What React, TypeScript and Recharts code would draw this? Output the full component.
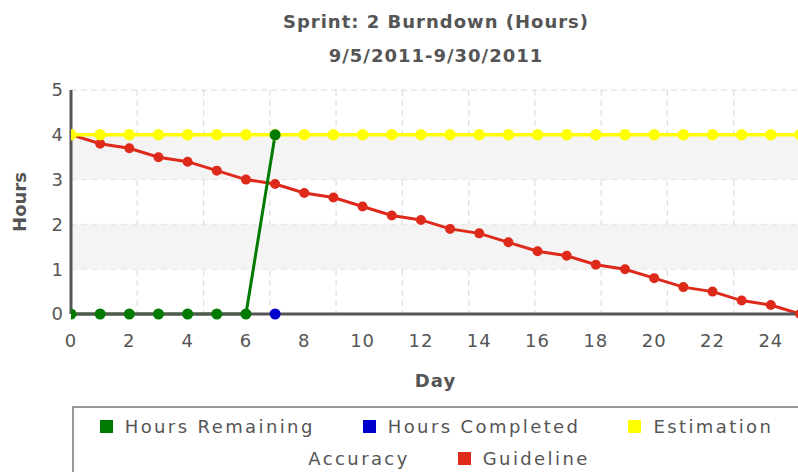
import React from "react";
import {
  LineChart,
  Line,
  XAxis,
  YAxis,
  CartesianGrid,
  ReferenceArea,
  Legend,
} from "recharts";

// sprint days 0..25
const days = [0, 1, 2, 3, 4, 5, 6, 7, 8, 9, 10, 11, 12, 13, 14, 15, 16, 17, 18, 19, 20, 21, 22, 23, 24, 25];
const hoursRemaining = [0, 0, 0, 0, 0, 0, 0, 4];
const hoursCompleted = [null, null, null, null, null, null, null, 0];
const estimation = [4, 4, 4, 4, 4, 4, 4, 4, 4, 4, 4, 4, 4, 4, 4, 4, 4, 4, 4, 4, 4, 4, 4, 4, 4, 4];
const guideline = [4, 3.8, 3.7, 3.5, 3.4, 3.2, 3.0, 2.9, 2.7, 2.6, 2.4, 2.2, 2.1, 1.9, 1.8, 1.6, 1.4, 1.3, 1.1, 1.0, 0.8, 0.6, 0.5, 0.3, 0.2, 0];

const xTicks = [0, 2, 4, 6, 8, 10, 12, 14, 16, 18, 20, 22, 24];
const yTicks = [0, 1, 2, 3, 4, 5];
// the vertical grid lines don't follow the day ticks in the original
const gridTicks = [0, 2.27, 4.55, 6.82, 9.09, 11.36, 13.64, 15.91, 18.18, 20.45, 22.73, 25];
const bands = [
  [1, 2],
  [3, 4],
];

const legendItems = [
  { name: "Hours Remaining", color: "#007a00" },
  { name: "Hours Completed", color: "#0000cc" },
  { name: "Estimation", color: "#ffff00" },
  { name: "Accuracy", color: "transparent" },
  { name: "Guideline", color: "#dd2a1b" },
];

const data = days.map((d, i) => ({
  day: d,
  remaining: hoursRemaining[i] ?? null,
  completed: hoursCompleted[i] ?? null,
  estimation: estimation[i],
  guideline: guideline[i],
}));

const FONT = "'DejaVu Sans', Verdana, sans-serif";
const TEXT = "#555";

function LegendBox() {
  return (
    <div
      style={{
        border: "2px solid #999",
        boxSizing: "border-box",
        width: 740,
        height: 80,
        paddingTop: 6,
        paddingRight: 11,
        display: "flex",
        flexWrap: "wrap",
        alignContent: "flex-start",
        justifyContent: "center",
        columnGap: 48,
        rowGap: 8,
        fontFamily: FONT,
        fontSize: 18,
        letterSpacing: 2.4,
        color: TEXT,
      }}
    >
      {legendItems.map((it) => (
        <div key={it.name} style={{ display: "flex", alignItems: "center", height: 24 }}>
          <span
            style={{
              display: "inline-block",
              width: 13,
              height: 13,
              background: it.color,
              marginRight: 12,
            }}
          />
          {it.name}
        </div>
      ))}
    </div>
  );
}

// map the grid positions through the x axis scale
const gridX = ({ xAxis, offset }: any) => {
  const s = xAxis && xAxis.scale;
  return gridTicks.map((t) => {
    if (typeof s === "function") return s(t);
    if (s && typeof s.map === "function") return s.map(t);
    return offset.left + (t / 25) * offset.width;
  });
};

export default function App() {
  return (
    <div style={{ position: "relative", width: 810, height: 472, fontFamily: FONT }}>
      <style>{"body{margin:0;overflow:hidden}"}</style>
      <div
        style={{
          position: "absolute",
          left: 71,
          width: 730,
          top: 5,
          textAlign: "center",
          color: TEXT,
          fontWeight: "bold",
          fontSize: 18,
          letterSpacing: 1,
          lineHeight: "34px",
        }}
      >
        <div>Sprint: 2 Burndown (Hours)</div>
        <div>9/5/2011-9/30/2011</div>
      </div>
      <LineChart
        width={810}
        height={472}
        data={data}
        margin={{ top: 90, right: 10, bottom: 78, left: 0 }}
      >
        {bands.map(([a, b]) => (
          <ReferenceArea key={a} y1={a} y2={b} fill="#f4f4f4" fillOpacity={1} stroke="none" />
        ))}
        <CartesianGrid stroke="#d8d8d8" strokeDasharray="6 4" verticalCoordinatesGenerator={gridX} />
        <XAxis
          xAxisId="top"
          orientation="top"
          type="number"
          dataKey="day"
          domain={[0, 25]}
          tick={false}
          tickLine={false}
          height={0}
          axisLine={{ stroke: "#555", strokeWidth: 3 }}
          allowDataOverflow
        />
        <XAxis
          type="number"
          dataKey="day"
          domain={[0, 25]}
          ticks={xTicks}
          interval={0}
          allowDataOverflow
          height={80}
          tickLine={false}
          tickSize={0}
          tickMargin={20}
          axisLine={{ stroke: "#555", strokeWidth: 3 }}
          tick={{ fill: TEXT, fontSize: 18, letterSpacing: 1 }}
          label={{
            value: "Day",
            position: "insideBottom",
            offset: 7,
            fill: TEXT,
            fontSize: 18,
            fontWeight: "bold",
            letterSpacing: 1,
          }}
        />
        <YAxis
          type="number"
          domain={[0, 5]}
          ticks={yTicks}
          width={71}
          tickLine={false}
          tickSize={0}
          tickMargin={8}
          axisLine={{ stroke: "#555", strokeWidth: 3 }}
          tick={{ fill: TEXT, fontSize: 18 }}
          label={{
            value: "Hours",
            angle: -90,
            position: "insideLeft",
            offset: 20,
            textAnchor: "middle",
            fill: TEXT,
            fontSize: 18,
            fontWeight: "bold",
          }}
        />
        <Line
          dataKey="guideline"
          stroke="#dd2a1b"
          strokeWidth={3}
          dot={{ r: 3.5, fill: "#dd2a1b", stroke: "#dd2a1b" }}
          isAnimationActive={false}
        />
        <Line
          dataKey="estimation"
          stroke="#ffff00"
          strokeWidth={3.5}
          dot={{ r: 4, fill: "#ffff00", stroke: "#ffff00" }}
          isAnimationActive={false}
        />
        <Line
          dataKey="completed"
          stroke="#0000cc"
          strokeWidth={3}
          dot={{ r: 4, fill: "#0000cc", stroke: "#0000cc" }}
          isAnimationActive={false}
        />
        <Line
          dataKey="remaining"
          stroke="#007a00"
          strokeWidth={3}
          dot={{ r: 4, fill: "#007a00", stroke: "#007a00" }}
          isAnimationActive={false}
        />
        <Legend
          layout="horizontal"
          verticalAlign="middle"
          align="center"
          wrapperStyle={{ top: 406, left: 72, width: 740 }}
          content={() => <LegendBox />}
        />
      </LineChart>
    </div>
  );
}
